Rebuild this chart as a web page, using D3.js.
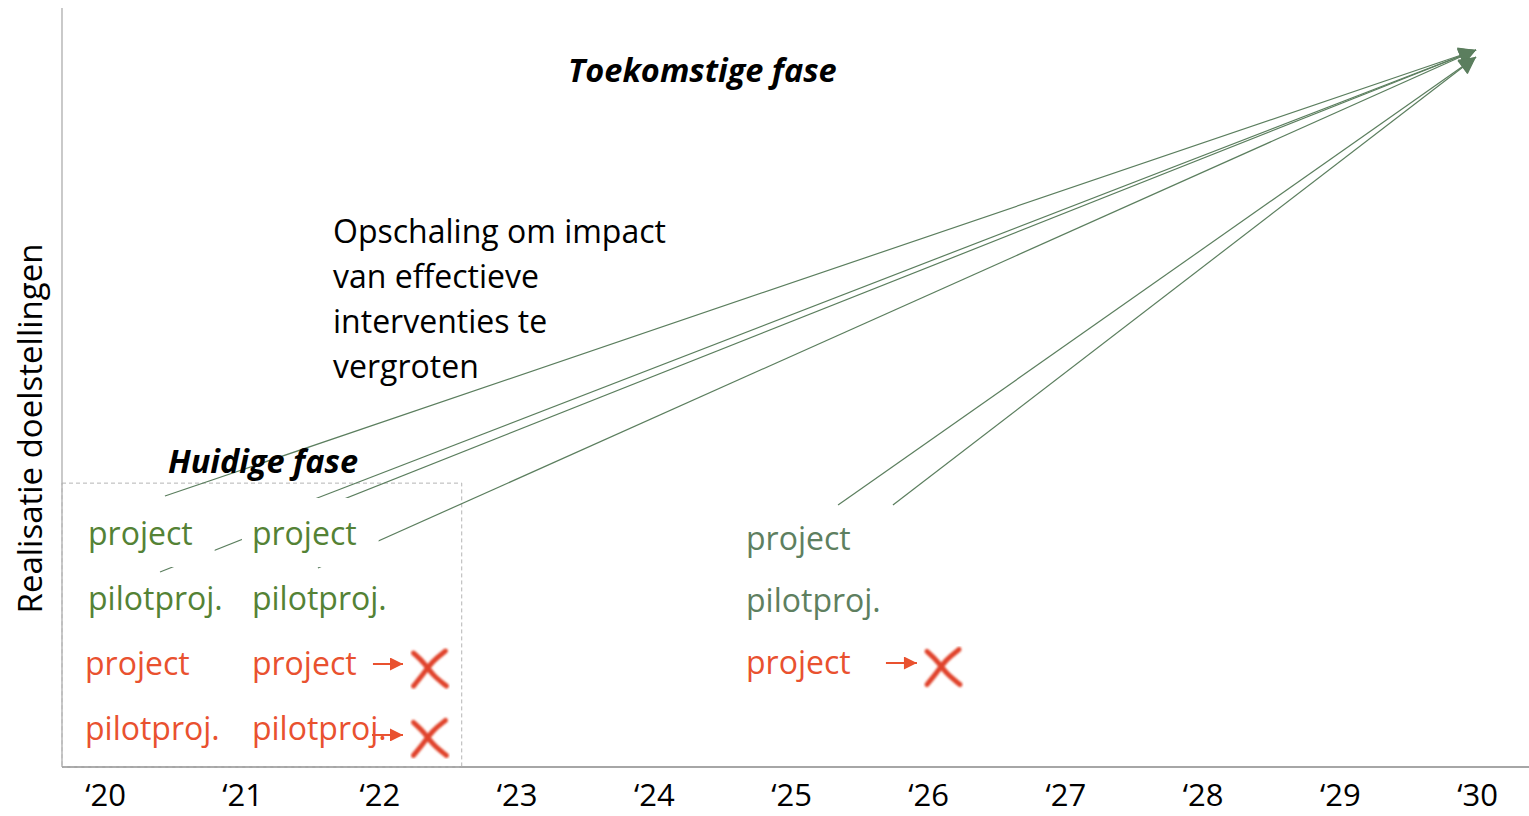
<!DOCTYPE html>
<html>
<head>
<meta charset="utf-8">
<script src="https://cdn.jsdelivr.net/npm/d3@7"></script>
<style>
  body { margin: 0; background: #fff; }
  svg { display: block; }
</style>
</head>
<body>
<div id="wrapper"></div>
<script>
// Years on the x axis and their labels
const years = [2020, 2021, 2022, 2023, 2024, 2025, 2026, 2027, 2028, 2029, 2030]
const yearLabels = ["‘20", "‘21", "‘22", "‘23", "‘24", "‘25", "‘26", "‘27", "‘28", "‘29", "‘30"]

// Project labels: name, year position, level of realisation, status
const labelNames = ["project", "pilotproj.", "project", "pilotproj.",
                    "project", "pilotproj.", "project", "pilotproj.",
                    "project", "pilotproj.", "project"]
const labelYears = [2019.876, 2019.876, 2019.854, 2019.854,
                    2021.071, 2021.071, 2021.071, 2021.071,
                    2024.672, 2024.672, 2024.672]
const labelLevels = [29.25, 20.7, 12.1, 3.6,
                     29.25, 20.7, 12.1, 3.6,
                     28.6, 20.4, 12.25]
const labelStatus = ["current", "current", "stopped", "stopped",
                     "current", "current", "stopped", "stopped",
                     "future", "future", "stopped"]

// Scale-up arrows: start (year, level) -> end (year, level)
const scaleFromYear = [2020.437, 2021.472, 2020.401, 2021.552, 2025.343, 2025.743]
const scaleFromLevel = [35.7, 34.91, 25.69, 26.22, 34.52, 34.52]
const scaleToYear = [2029.993, 2029.993, 2029.993, 2029.993, 2029.993, 2029.993]
const scaleToLevel = [94.47, 94.47, 94.47, 94.47, 93.54, 93.54]

// Stopped projects: short arrow and a cross
const stopFromYear = [2021.953, 2021.946, 2025.692]
const stopToYear = [2022.172, 2022.172, 2025.918]
const stopLevel = [13.57, 4.22, 13.70]
const crossYear = [2022.365, 2022.365, 2026.108]
const crossLevel = [13.04, 3.89, 13.24]

// Current phase area
const currentPhaseEnd = 2022.6
const currentPhaseTop = 37.4

const noteLines = ["Opschaling om impact", "van effectieve", "interventies te", "vergroten"]

// 1. Dimensions
const dimensions = {
  width: 1529,
  height: 816,
  axisLeft: 62,
  axisBottom: 767,
  axisTop: 8,
}

// 2. Canvas
const svg = d3.select("#wrapper")
  .append("svg")
  .attr("width", dimensions.width)
  .attr("height", dimensions.height)
  .style("font-family", "'Open Sans', sans-serif")

const defs = svg.append("defs")
defs.append("marker")
  .attr("id", "head-green")
  .attr("viewBox", "0 0 10 10")
  .attr("refX", 10).attr("refY", 5)
  .attr("markerUnits", "userSpaceOnUse")
  .attr("markerWidth", 21).attr("markerHeight", 17)
  .attr("orient", "auto")
  .append("path").attr("d", "M0,0L10,5L0,10Z").attr("fill", "#5b7e5e")

defs.append("marker")
  .attr("id", "head-red")
  .attr("viewBox", "0 0 10 10")
  .attr("refX", 10).attr("refY", 5)
  .attr("markerUnits", "userSpaceOnUse")
  .attr("markerWidth", 16).attr("markerHeight", 13)
  .attr("orient", "auto")
  .append("path").attr("d", "M0,0L10,5L0,10Z").attr("fill", "#e9512f")

defs.append("filter").attr("id", "soft")
  .append("feGaussianBlur").attr("stdDeviation", 0.8)

// 3. Scales
const xScale = d3.scaleLinear().domain([2020, 2030]).range([105, 1477])
const yScale = d3.scaleLinear().domain([0, 100])
  .range([dimensions.axisBottom, dimensions.axisBottom - 759])

const colors = { current: "#548235", future: "#5e7f60", stopped: "#e9512f" }

// 4. Axes
svg.append("line")
  .attr("x1", dimensions.axisLeft).attr("x2", dimensions.axisLeft)
  .attr("y1", dimensions.axisTop).attr("y2", dimensions.axisBottom)
  .attr("stroke", "#a6a6a6").attr("stroke-width", 1.2)

const xAxis = d3.axisBottom(xScale)
  .tickValues(years)
  .tickFormat((d, i) => yearLabels[i])
  .tickSize(0)
  .tickPadding(17)

const xAxisGroup = svg.append("g")
  .attr("transform", `translate(0, ${dimensions.axisBottom})`)
  .call(xAxis)
xAxisGroup.select(".domain").remove()
xAxisGroup.selectAll("text")
  .attr("fill", "#000")
  .style("font-size", "31px")
  .style("font-family", "'Open Sans', sans-serif")

svg.append("line")
  .attr("x1", dimensions.axisLeft).attr("x2", dimensions.width)
  .attr("y1", dimensions.axisBottom).attr("y2", dimensions.axisBottom)
  .attr("stroke", "#a6a6a6").attr("stroke-width", 2)

svg.append("text")
  .attr("transform", `translate(42, ${yScale(44.6)}) rotate(-90)`)
  .attr("text-anchor", "middle")
  .style("font-size", "33px")
  .text("Realisatie doelstellingen")

// Current phase box
svg.append("rect")
  .attr("x", dimensions.axisLeft)
  .attr("y", yScale(currentPhaseTop))
  .attr("width", xScale(currentPhaseEnd) - dimensions.axisLeft)
  .attr("height", yScale(0) - yScale(currentPhaseTop))
  .attr("fill", "none")
  .attr("stroke", "#b4b4b4")
  .attr("stroke-dasharray", "4 3")

// 5. Scale-up arrows
svg.append("g").selectAll("line")
  .data(scaleFromYear)
  .join("line")
  .attr("x1", (d) => xScale(d))
  .attr("y1", (d, i) => yScale(scaleFromLevel[i]))
  .attr("x2", (d, i) => xScale(scaleToYear[i]))
  .attr("y2", (d, i) => yScale(scaleToLevel[i]))
  .attr("stroke", "#5b7e5e")
  .attr("stroke-width", 1.2)
  .attr("marker-end", "url(#head-green)")

// 6. Labels (first row of current projects sits on a white text box)
const labels = svg.append("g").selectAll("g")
  .data(labelNames)
  .join("g")
  .attr("transform", (d, i) => `translate(${xScale(labelYears[i])}, ${yScale(labelLevels[i])})`)

labels.append("text")
  .attr("fill", (d, i) => colors[labelStatus[i]])
  .style("font-size", "32px")
  .text((d) => d)

labels.filter((d, i) => labelStatus[i] === "current" && d === "project")
  .insert("rect", "text")
  .each(function () {
    const box = this.parentNode.querySelector("text").getBBox()
    d3.select(this)
      .attr("x", box.x - 10)
      .attr("y", box.y - 13)
      .attr("width", box.width + 32)
      .attr("height", box.height + 26)
  })
  .attr("fill", "#fff")

// 7. Stopped projects
svg.append("g").selectAll("line")
  .data(stopFromYear)
  .join("line")
  .attr("x1", (d) => xScale(d))
  .attr("x2", (d, i) => xScale(stopToYear[i]))
  .attr("y1", (d, i) => yScale(stopLevel[i]))
  .attr("y2", (d, i) => yScale(stopLevel[i]))
  .attr("stroke", "#e9512f")
  .attr("stroke-width", 2)
  .attr("marker-end", "url(#head-red)")

const strokeA = [[-16, -15], [-5, -5], [3, 7], [17, 18]]
const strokeB = [[16, -17], [3, -7], [-6, 6], [-16, 18]]
const crossLine = d3.line().curve(d3.curveBasis)

const crosses = svg.append("g").selectAll("g")
  .data(crossYear)
  .join("g")
  .attr("transform", (d, i) => `translate(${xScale(d)}, ${yScale(crossLevel[i])})`)
  .attr("filter", "url(#soft)")

crosses.append("path").attr("d", crossLine(strokeA))
crosses.append("path").attr("d", crossLine(strokeB))
crosses.selectAll("path")
  .attr("fill", "none")
  .attr("stroke", "#e0432c")
  .attr("stroke-width", 5)
  .attr("stroke-linecap", "round")

// 8. Annotations
svg.append("text")
  .attr("x", xScale(2023.375)).attr("y", yScale(90.25))
  .style("font-size", "32.5px").style("font-weight", "bold").style("font-style", "italic")
  .text("Toekomstige fase")

svg.append("text")
  .attr("x", xScale(2020.459)).attr("y", yScale(38.74))
  .style("font-size", "32.5px").style("font-weight", "bold").style("font-style", "italic")
  .text("Huidige fase")

svg.append("text")
  .attr("x", xScale(2021.662)).attr("y", yScale(69.04))
  .style("font-size", "32px")
  .selectAll("tspan")
  .data(noteLines)
  .join("tspan")
  .attr("x", xScale(2021.662))
  .attr("dy", (d, i) => (i === 0 ? 0 : 45))
  .text((d) => d)
</script>
</body>
</html>
